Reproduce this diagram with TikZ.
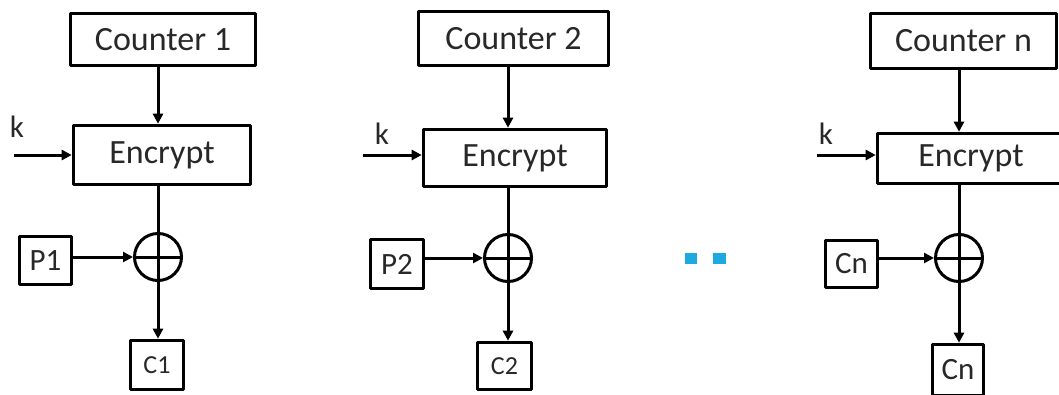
\documentclass[tikz,border=0pt]{standalone}
\usepackage{fontspec}
\setmainfont{Carlito}
\usetikzlibrary{arrows.meta}
\definecolor{dotblue}{RGB}{30,169,225}
\definecolor{txtgray}{RGB}{40,40,40}
\tikzset{
	blk/.style={draw, line width=3.6pt, inner sep=0pt, text=txtgray},
	xorop/.style={draw, circle, minimum size=47pt, inner sep=0pt,
		path picture={\draw (path picture bounding box.north) -- (path picture bounding box.south)
			(path picture bounding box.west) -- (path picture bounding box.east);}},
	small/.style={font=\fontsize{31}{36}\selectfont},
	tiny/.style={font=\fontsize{26}{30}\selectfont},
}
\begin{document}
\begin{tikzpicture}[x=1pt, y=-1pt, line width=3pt, line join=round, >={Triangle[length=10pt,width=10pt]}, font=\fontsize{34}{40}\selectfont]
			\useasboundingbox (0,0) rectangle (1059,394);
			\clip (0,0) rectangle (1059,394);
			% block 1
			\node[blk, minimum width=185, minimum height=52] (cnt1) at (163,39.5) {Counter 1};
			\node[blk, minimum width=177, minimum height=59] (enc1) at (162,155) {Encrypt};
			\node[xorop] (xor1) at (158,257) {};
			\node[blk, small, minimum width=52, minimum height=48] (p1) at (45.5,260.5) {P1};
			\node[blk, tiny, minimum width=53, minimum height=49] (c1) at (157,365) {C1};
			\node[small, text=txtgray] (kl1) at (17,127) {k};
			\coordinate (k1) at (14,155);
			% block 2
			\node[blk, minimum width=190, minimum height=54] (cnt2) at (513.5,38.5) {Counter 2};
			\node[blk, minimum width=183, minimum height=57] (enc2) at (515,158) {Encrypt};
			\node[xorop] (xor2) at (508,258) {};
			\node[blk, small, minimum width=53, minimum height=49] (p2) at (397,264) {P2};
			\node[blk, tiny, minimum width=54, minimum height=47] (c2) at (504.5,366) {C2};
			\node[small, text=txtgray] (kl2) at (382,134) {k};
			\coordinate (k2) at (363,155);
			% block n
			\node[blk, minimum width=186, minimum height=55] (cntn) at (963.5,41) {Counter n};
			\node[blk, minimum width=187, minimum height=50] (encn) at (971,158.5) {Encrypt};
			\node[xorop] (xorn) at (959,258) {};
			\node[blk, small, minimum width=52, minimum height=47] (pn) at (851.5,264) {Cn};
			\node[blk, small, minimum width=51, minimum height=51] (cn) at (958,370) {Cn};
			\node[small, text=txtgray] (kln) at (826,134) {k};
			\coordinate (kn) at (817,155);
			% dots
			\fill[dotblue] (685,253) rectangle (697,264);
			\fill[dotblue] (713,253) rectangle (726,264);
			\foreach \i in {1,2,n}{
				\draw[->] (cnt\i.south -| xor\i) -- (enc\i.north -| xor\i);
				\draw (enc\i.south -| xor\i) -- (xor\i.north);
				\draw[->] (k\i) -- (k\i -| enc\i.west);
				\draw[->] (p\i.east |- xor\i) -- (xor\i.west);
				\draw[->] (xor\i.south) -- (c\i.north -| xor\i);
			}
		\end{tikzpicture}
\end{document}
